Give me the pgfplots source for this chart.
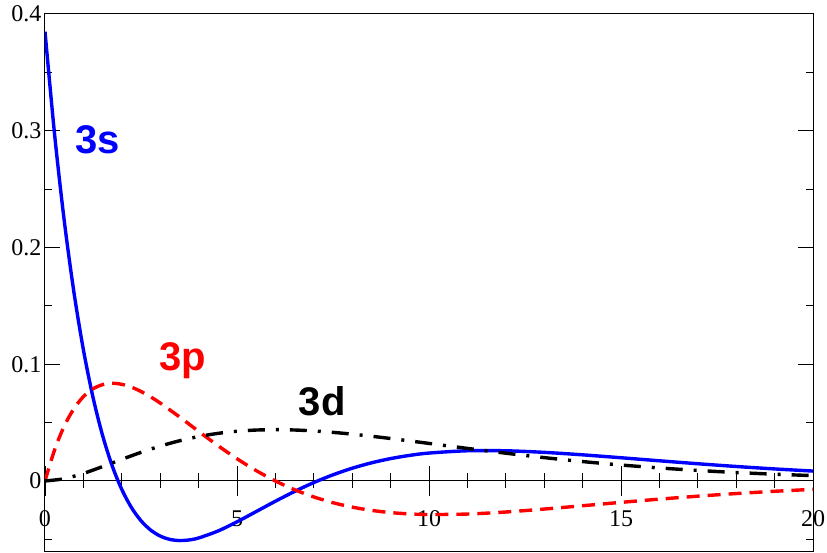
\documentclass[border=0pt]{standalone}
\usepackage{pgfplots}
\pgfplotsset{compat=1.18}
\usepackage{fontspec}
\setmainfont{Liberation Serif}
\setsansfont{Liberation Sans}

\pgfplotstableread{
r s
0 0.38490
0.25 0.29674
0.5 0.22324
0.75 0.16237
1 0.11236
1.25 0.07166
1.5 0.03891
1.75 0.01293
2 -0.00732
2.25 -0.02273
2.5 -0.03408
2.75 -0.04204
3 -0.04720
3.25 -0.05006
3.5 -0.05105
3.75 -0.05054
4 -0.04885
4.5 -0.04294
5 -0.03500
5.5 -0.02621
6 -0.01736
6.5 -0.00898
7 -0.00138
7.5 0.00527
8 0.01090
8.5 0.01551
9 0.01916
9.5 0.02193
10 0.02390
11 0.02587
12 0.02585
13 0.02450
14 0.02238
15 0.01988
16 0.01728
17 0.01475
18 0.01240
19 0.01030
20 0.00847
}\threes

\pgfplotstableread{
r p
0 0
0.25 0.02666
0.5 0.04693
0.75 0.06182
1 0.07223
1.25 0.07891
1.5 0.08254
1.75 0.08367
2 0.08280
2.25 0.08035
2.5 0.07666
2.75 0.07205
3 0.06675
3.5 0.05493
4 0.04251
4.5 0.03036
5 0.01904
5.5 0.00886
6 0
6.5 -0.00751
7 -0.01368
7.5 -0.01862
8 -0.02241
8.5 -0.02519
9 -0.02710
9.5 -0.02825
10 -0.02876
11 -0.02834
12 -0.02659
13 -0.02407
14 -0.02122
15 -0.01834
16 -0.01557
17 -0.01304
18 -0.01079
19 -0.00884
20 -0.00719
}\threep

\pgfplotstableread{
r d
0 0
0.5 0.001908
1 0.006461
1.5 0.012306
2 0.018518
2.5 0.024493
3 0.029855
3.5 0.034397
4 0.038030
4.5 0.040742
5 0.042578
5.5 0.043610
6 0.043933
6.5 0.043644
7 0.042845
7.5 0.041632
8 0.040096
8.5 0.038314
9 0.036366
9.5 0.034293
10 0.032164
11 0.027888
12 0.023788
13 0.019993
14 0.016613
15 0.013670
16 0.011145
17 0.009016
18 0.007242
19 0.005781
20 0.004591
}\threed

\begin{document}
\begin{tikzpicture}
% zero line with x ticks
\begin{axis}[
  scale only axis, width=768pt, height=537pt,
  xmin=0, xmax=20, ymin=-0.06, ymax=0.4,
  axis x line=middle, axis y line=none,
  axis line style={line width=1pt,-},
  xtick={0,5,10,15,20},
  minor xtick={1,2,3,4,6,7,8,9,11,12,13,14,16,17,18,19},
  xtick align=center,
  major tick length=30pt, minor tick length=15pt,
  tick style={line width=1pt,black},
  hide obscured x ticks=false,
  /pgf/number format/assume math mode=true,
  xticklabel style={font=\fontsize{24}{24}\selectfont, yshift=-11pt},
]
\addplot[draw=none] coordinates {(0,0) (20,0)};
\end{axis}
% main box axis with curves
\begin{axis}[
  scale only axis, width=768pt, height=537pt,
  xmin=0, xmax=20, ymin=-0.06, ymax=0.4,
  axis line style={line width=1pt},
  xtick=\empty,
  ytick={0,0.1,0.2,0.3,0.4},
  minor ytick={-0.05,0.05,0.15,0.25,0.35},
  ytick pos=both, yticklabel pos=left,
  tick align=inside,
  major tick length=15pt, minor tick length=7pt,
  tick style={line width=1pt,black},
  /pgf/number format/assume math mode=true,
  yticklabel style={font=\fontsize{24}{24}\selectfont},
]
\addplot[blue, line width=3.4pt, smooth] table[x=r,y=s] {\threes};
\addplot[red, line width=3.4pt, smooth, dash pattern=on 13pt off 8pt] table[x=r,y=p] {\threep};
\addplot[black, line width=3.4pt, smooth, dash pattern=on 17pt off 11pt on 3pt off 11pt] table[x=r,y=d] {\threed};
\node[font=\fontsize{40}{40}\selectfont\bfseries\sffamily, text=blue] at (axis cs:1.38,0.292) {3s};
\node[font=\fontsize{40}{40}\selectfont\bfseries\sffamily, text=red] at (axis cs:3.58,0.1027) {3p};
\node[font=\fontsize{40}{40}\selectfont\bfseries\sffamily, text=black] at (axis cs:7.22,0.0685) {3d};
\end{axis}
\pgfresetboundingbox
\path ([shift={(-45pt,-1pt)}]current axis.south west) rectangle ([shift={(14pt,14pt)}]current axis.north east);
\end{tikzpicture}
\end{document}
